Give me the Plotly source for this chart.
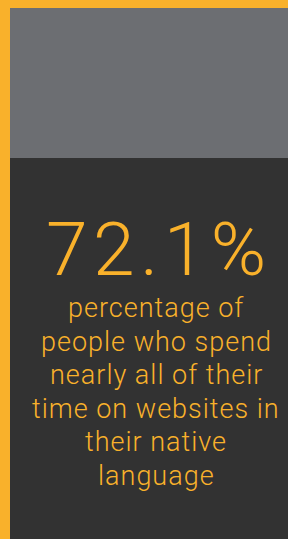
import plotly.graph_objects as go

# ---- data ----
stat_value = [72.1]
stat_suffix = ["%"]
description_lines = ["percentage of", "people who spend", "nearly all of their",
                     "time on websites in", "their native", "language"]

W, H = 288, 539
ORANGE = "#F9B12B"
GREY = "#6C6E72"
DARK = "#323232"
FONT = "Roboto"
CX = 156

fig = go.Figure()
fig.add_trace(go.Scatter(x=[0], y=[0], mode="markers", marker=dict(opacity=0), hoverinfo="skip", showlegend=False))

fig.add_shape(type="rect", x0=10, x1=W + 2, y0=8, y1=158, fillcolor=GREY, line_width=0, layer="below")
fig.add_shape(type="rect", x0=10, x1=W + 2, y0=158, y1=H + 2, fillcolor=DARK, line_width=0, layer="below")

big = 75
fig.add_annotation(x=CX + 3, y=275 + 0.2625 * big, xref="x", yref="y", xanchor="center", yanchor="bottom",
                   text=f'<span style="letter-spacing:5.5px">{stat_value[0]:.1f}{stat_suffix[0]}</span>',
                   showarrow=False, font=dict(family=FONT, size=big, color=ORANGE, weight=300))

small = 27
for i, line in enumerate(description_lines):
    base = 319 + 33.6 * i
    fig.add_annotation(x=CX, y=base + 0.2625 * small, xref="x", yref="y", xanchor="center", yanchor="bottom",
                       text=f'<span style="letter-spacing:1px">{line}</span>', showarrow=False,
                       font=dict(family=FONT, size=small, color=ORANGE, weight=300))

fig.update_layout(width=W, height=H, margin=dict(l=0, r=0, t=0, b=0),
                  paper_bgcolor=ORANGE, plot_bgcolor=ORANGE,
                  xaxis=dict(range=[0, W], visible=False, fixedrange=True),
                  yaxis=dict(range=[H, 0], visible=False, fixedrange=True),
                  showlegend=False)
fig.write_html("out.html", config={"displayModeBar": False},
               post_script="document.body.style.margin='0';document.body.style.overflow='hidden';")
